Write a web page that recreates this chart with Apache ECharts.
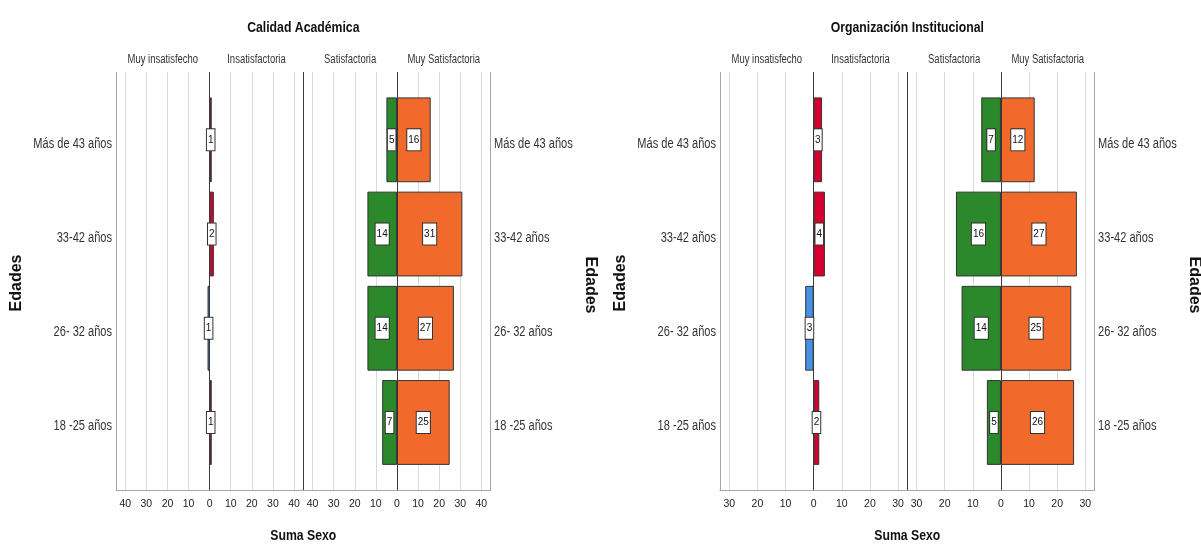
<!DOCTYPE html>
<html><head><meta charset="utf-8">
<script src="https://cdn.jsdelivr.net/npm/echarts@6/dist/echarts.min.js"></script>
<style>html,body{margin:0;padding:0;background:#fff}#c{width:1201px;height:545px}</style>
</head><body><div id="c"></div>
<script>
// ---- data ----
const categories = ['Más de 43 años', '33-42 años', '26- 32 años', '18 -25 años'];
const panelTitles = ['Calidad Académica', 'Organización Institucional'];
const groupNames = ['Muy insatisfecho', 'Insatisfactoria', 'Satisfactoria', 'Muy Satisfactoria'];
const xAxisTitle = 'Suma Sexo';
const yAxisTitle = 'Edades';
// Calidad Académica
const caMuyInsatisfecho = [0, 0, 1, 0];
const caInsatisfactoria = [1, 2, 0, 1];
const caSatisfactoria = [5, 14, 14, 7];
const caMuySatisfactoria = [16, 31, 27, 25];
const caAxisMax = 44.4;
// Organización Institucional
const oiMuyInsatisfecho = [0, 0, 3, 0];
const oiInsatisfactoria = [3, 4, 0, 2];
const oiSatisfactoria = [7, 16, 14, 5];
const oiMuySatisfactoria = [12, 27, 25, 26];
const oiAxisMax = 33.3;

// ---- style ----
const FB = '"Liberation Sans",Arial,sans-serif';
const NARROW = 0.79;
const colors = ['#4a91e3', '#d6002e', '#2b892b', '#f26a2b'];
const frameGrey = '#a6a6a6', darkLine = '#3a3a3a', lightLine = '#dadada';

const panels = [
  { left: 116, max: caAxisMax, series: [caMuyInsatisfecho, caInsatisfactoria, caSatisfactoria, caMuySatisfactoria], title: panelTitles[0] },
  { left: 720, max: oiAxisMax, series: [oiMuyInsatisfecho, oiInsatisfactoria, oiSatisfactoria, oiMuySatisfactoria], title: panelTitles[1] }
];
const subW = 187.3, frameTop = 72, frameH = 418, barTop = 92.7, barH = 376.9;

const grid = [], xAxis = [], yAxis = [], series = [], graphic = [], outerAxes = [];
let gi = 0;

function tickColors(max, s) {
  const vals = [-max];
  for (let v = Math.ceil(-max / 10) * 10; v <= max; v += 10) vals.push(v);
  vals.push(max);
  return vals.map((v, i) => {
    if (i === 0) return s === 0 ? frameGrey : darkLine;
    if (i === vals.length - 1) return s === 0 ? darkLine : frameGrey;
    if (v === 0) return darkLine;
    return lightLine;
  });
}

function narrowText(x, y, text, size, bold, align, extra) {
  return Object.assign({
    type: 'text', x, y, scaleX: NARROW,
    style: { text, fontSize: size, fontWeight: bold ? 'bold' : 'normal', fontFamily: FB, fill: bold ? '#111' : '#333', align, verticalAlign: 'middle' }
  }, extra || {});
}

panels.forEach((p, pi) => {
  for (let s = 0; s < 2; s++) {
    const gx = p.left + s * subW;
    // frame grid
    grid.push({ left: gx, top: frameTop, width: subW, height: frameH });
    xAxis.push({
      type: 'value', gridIndex: gi, min: -p.max, max: p.max, splitNumber: Math.round(p.max * 2 / 11),
      axisLine: { show: true, onZero: false, lineStyle: { color: frameGrey, width: 1 } },
      axisTick: { show: false },
      axisLabel: { formatter: v => Math.abs(v), showMinLabel: false, showMaxLabel: false, fontSize: 10.5, margin: 9, color: '#222', fontFamily: FB },
      splitLine: { show: true, lineStyle: { color: tickColors(p.max, s), width: 1 } }
    });
    yAxis.push({ type: 'value', gridIndex: gi, show: false, min: 0, max: 1 });
    gi++;
    // bar grid
    grid.push({ left: gx, top: barTop, width: subW, height: barH });
    xAxis.push({ type: 'value', gridIndex: gi, min: -p.max, max: p.max, show: false });
    yAxis.push({
      type: 'category', gridIndex: gi, data: categories, inverse: true,
      axisLine: { show: false }, axisTick: { show: false }, splitLine: { show: false }, axisLabel: { show: false }
    });
    outerAxes.push({ gi, side: s, max: p.max });
    const neg = p.series[s * 2], pos = p.series[s * 2 + 1];
    const lbl = {
      show: true, position: 'inside', formatter: q => Math.abs(q.value),
      fontSize: 10, color: '#111', fontFamily: FB, backgroundColor: '#fff',
      borderColor: '#333', borderWidth: 1, padding: [5, 1, 5, 1], lineHeight: 11
    };
    series.push({
      type: 'bar', name: groupNames[s * 2], xAxisIndex: gi, yAxisIndex: gi, stack: 'st' + gi,
      data: neg.map(v => v ? -v : '-'), barCategoryGap: '10%',
      itemStyle: { color: colors[s * 2], borderColor: '#333', borderWidth: 1 }, label: lbl
    });
    series.push({
      type: 'bar', name: groupNames[s * 2 + 1], xAxisIndex: gi, yAxisIndex: gi, stack: 'st' + gi,
      data: pos.map(v => v ? v : '-'), barCategoryGap: '10%',
      itemStyle: { color: colors[s * 2 + 1], borderColor: '#333', borderWidth: 1 }, label: lbl
    });
    gi++;
    // group headers
    graphic.push(narrowText(gx + subW / 4, 60, groupNames[s * 2], 12, false, 'center'));
    graphic.push(narrowText(gx + subW * 3 / 4, 60, groupNames[s * 2 + 1], 12, false, 'center'));
  }
  const cx = p.left + subW;
  graphic.push(narrowText(cx, 28, p.title, 15.5, true, 'center'));
  graphic.push(narrowText(cx, 536, xAxisTitle, 15.5, true, 'center'));
  graphic.push({ type: 'text', x: p.left - 99, y: 283, rotation: Math.PI / 2, style: { text: yAxisTitle, fontSize: 16, fontWeight: 'bold', fontFamily: FB, fill: '#111', align: 'center', verticalAlign: 'middle' } });
  graphic.push({ type: 'text', x: p.left + 2 * subW + 100, y: 285, rotation: -Math.PI / 2, style: { text: yAxisTitle, fontSize: 16, fontWeight: 'bold', fontFamily: FB, fill: '#111', align: 'center', verticalAlign: 'middle' } });
});

const chart = echarts.init(document.getElementById('c'), null, { renderer: 'canvas' });
chart.setOption({ backgroundColor: '#fff', animation: false, grid, xAxis, yAxis, series });

// category labels placed through the library's own scales (narrow rendering)
outerAxes.forEach(a => {
  const edge = chart.convertToPixel({ xAxisIndex: a.gi }, a.side === 0 ? -a.max : a.max);
  categories.forEach(c => {
    const y = chart.convertToPixel({ yAxisIndex: a.gi }, c);
    graphic.push(narrowText(a.side === 0 ? edge - 4 : edge + 3.5, y + 4, c, 14, false, a.side === 0 ? 'right' : 'left'));
  });
});
chart.setOption({ graphic });
</script>
</body></html>
